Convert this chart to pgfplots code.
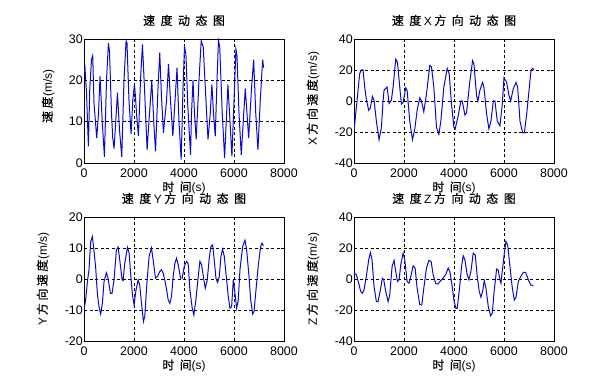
\documentclass[border=0pt]{standalone}
\usepackage{fontspec}
\setmainfont{Liberation Sans}
\newfontfamily\cjk[FakeBold=0.45]{Noto Sans CJK SC}
\usepackage{pgfplots}
\pgfplotsset{compat=1.18}
\newcommand{\g}{\hspace{5.5bp}}
\newcommand{\h}{\hspace{2.5bp}}
\newcommand{\lat}[1]{{\normalfont #1}}
\definecolor{line}{rgb}{0.04,0.04,0.8}
\pgfplotsset{
  mystyle/.style={
    scale only axis, width=200bp, height=124bp, anchor=south west,
    xmin=0, xmax=8000, xtick={0,2000,4000,6000,8000},
    scaled ticks=false,
    /pgf/number format/assume math mode=true,
    /pgf/number format/set thousands separator={},
    grid=major,
    major grid style={black, dash pattern=on 3bp off 2.5bp, line width=0.6bp},
    axis line style={black, line width=0.7bp},
    tick style={black, line width=0.6bp},
    major tick length=3bp,
    tick align=inside,
    ticklabel style={font=\fontsize{12.5}{14}\selectfont},
    xticklabel style={anchor=base, yshift=-14.5bp},
    yticklabel style={anchor=east, inner sep=1bp},
    title style={at={(0.5,1)}, anchor=base, yshift=8bp, font=\fontsize{12}{13}\selectfont\cjk},
    xlabel style={at={(axis description cs:0.5,0)}, anchor=base, yshift=-28.5bp, font=\fontsize{12}{13}\selectfont\cjk},
    ylabel style={anchor=center, font=\fontsize{12}{13}\selectfont\cjk},
    xlabel={时\g 间\lat{(s)}},
  },
  myline/.style={line, line width=1bp, no marks},
}
\begin{document}
\begin{tikzpicture}
\useasboundingbox (0,0) rectangle (604bp,384bp);
% ---------- plot 1 ----------
\begin{axis}[mystyle, at={(84bp,221bp)}, ymin=0, ymax=30, ytick={0,10,20,30},
  title={速\g 度\g 动\g 态\g 图},
  ylabel={速\h 度\lat{(m/s)}},
  ylabel style={at={(axis description cs:-0.18,0.54)}}]
\addplot[myline] coordinates {
(0,22) (40,23) (100,17) (176,4) (230,17.8) (300,25) (349,26) (400,14.5) (509,6) (580,12) (642,21)
(730,10) (817,1.5) (900,20) (977,29) (1020,27) (1100,12) (1150,6) (1202,3.5) (1270,10)
(1338,17) (1420,8) (1510,1.5) (1600,20) (1683,29.5) (1720,29) (1800,15) (1883,7)
(1950,15) (2017,19) (2060,16) (2100,12) (2178,6.5) (2260,20) (2338,28.7) (2420,18) (2524,3.2)
(2620,12) (2712,20) (2790,10) (2860,2.8) (2960,18) (3030,26.7) (3100,16) (3178,7.3)
(3300,15) (3381,24) (3460,15) (3554,6.5) (3630,14) (3720,23) (3800,10) (3887,0.8)
(3960,18) (4020,28.3) (4080,26) (4150,14) (4262,2) (4300,12) (4360,20) (4420,12) (4488,5.7)
(4600,20) (4688,29.5) (4770,28) (4880,15) (4960,5.7) (5050,12) (5116,19) (5180,12)
(5250,6.5) (5320,20) (5380,29.7) (5430,28) (5530,12) (5624,1.2) (5690,10) (5757,19)
(5840,10) (5917,1.6) (6000,15) (6077,27.5) (6120,26) (6200,12) (6290,2) (6370,10)
(6450,18) (6520,12) (6586,6) (6700,18) (6786,25) (6870,12) (6958,3.2) (7050,15)
(7146,25) (7186,23)
};
\end{axis}
% ---------- plot 2 ----------
\begin{axis}[mystyle, at={(354bp,221bp)}, ymin=-40, ymax=40, ytick={-40,-20,0,20,40},
  title={速\g 度\h\lat{X}\h 方\g 向\g 动\g 态\g 图},
  ylabel={\lat{X}\h 方\h 向\h 速\h 度\lat{(m/s)}},
  ylabel style={at={(axis description cs:-0.205,0.52)}}]
\addplot[myline] coordinates {
(0,-19.3) (120,0) (227,17.6) (294,20) (361,20) (428,9) (494,1) (588,-6) (655,-4.5)
(735,3) (802,0.5) (895,-13) (1002,-25) (1096,-17) (1162,0) (1202,7) (1323,9)
(1403,-1.5) (1496,0.5) (1563,9) (1670,27) (1737,25) (1830,9) (1897,-2) (1964,-1)
(2071,8.5) (2124,7) (2231,-13) (2338,-25) (2432,-18) (2525,-6) (2632,2) (2699,0)
(2792,-7) (2899,4.5) (3033,23) (3100,22) (3193,9) (3300,-17) (3393,-21.5) (3474,-13)
(3594,9) (3727,21) (3808,17.6) (3901,-2) (3995,-17) (4048,-18) (4168,-9.5) (4275,0)
(4329,0) (4436,-9) (4502,-7.5) (4636,13) (4743,26) (4796,24) (4903,3.5) (4957,0)
(5037,7) (5144,12) (5197,9) (5304,-8.5) (5397,-18) (5478,-13) (5571,0) (5638,0)
(5731,-13) (5838,-16) (5932,-2) (5999,15) (6106,12) (6199,3.5) (6266,0) (6373,8)
(6480,12) (6546,9) (6640,-13) (6747,-20.5) (6814,-20.5) (6907,-8.5) (7014,9)
(7081,20) (7148,21) (7201,20)
};
\end{axis}
% ---------- plot 3 ----------
\begin{axis}[mystyle, at={(84bp,43bp)}, ymin=-20, ymax=20, ytick={-20,-10,0,10,20},
  title={速\g 度\h\lat{Y}\h 方\g 向\g 动\g 态\g 图},
  ylabel={\lat{Y}\h 方\h 向\h 速\h 度\lat{(m/s)}},
  ylabel style={at={(axis description cs:-0.205,0.5)}}]
\addplot[myline] coordinates {
(0,-10) (67,-6.7) (134,-1) (200,3) (267,12) (334,13.7) (401,9) (468,3.5) (534,-4.6)
(601,-9) (668,-11.3) (735,-7.8) (802,-0.8) (895,2) (962,0.3) (1055,-4.6) (1122,-4.6)
(1202,-0.3) (1296,9.4) (1363,10.3) (1430,6.2) (1523,-0.3) (1563,-0.5) (1630,5)
(1737,10.2) (1804,8.4) (1870,1.3) (1937,-5) (2004,-8.4) (2071,-4) (2164,-0.3)
(2231,-2) (2298,-7.8) (2378,-13.7) (2432,-12) (2525,-0.3) (2605,7.3) (2699,10)
(2766,6.2) (2859,0.3) (2939,0.8) (3033,2.4) (3100,3) (3166,1.9) (3273,-1.9)
(3367,-6.7) (3434,-7.8) (3500,-5.7) (3567,0.8) (3634,5) (3701,6.7) (3768,4.6)
(3861,0.3) (3928,0.3) (4008,4) (4102,5.7) (4168,4.9) (4235,-3.5) (4329,-9.4)
(4395,-11.6) (4476,-6.7) (4569,0.8) (4636,5.7) (4703,4.6) (4796,-0.3) (4850,-3)
(4930,-0.3) (5010,6.7) (5077,10.5) (5144,11) (5210,6.2) (5277,0.3) (5344,-1.1)
(5411,0.8) (5478,7.3) (5544,9.6) (5611,7.3) (5705,-0.3) (5772,-5.7) (5838,-9.4)
(5905,-8.9) (5972,-0.3) (6039,-4.6) (6106,-9.4) (6172,-6.7) (6239,3) (6346,10.5)
(6440,12.5) (6506,9.4) (6600,0.8) (6667,-6.7) (6747,-11.3) (6800,-10.5) (6880,-3.5)
(6974,4.6) (7067,10.5) (7121,11.6) (7174,10.7)
};
\end{axis}
% ---------- plot 4 ----------
\begin{axis}[mystyle, at={(354bp,43bp)}, ymin=-40, ymax=40, ytick={-40,-20,0,20,40},
  title={速\g 度\h\lat{Z}\h 方\g 向\g 动\g 态\g 图},
  ylabel={\lat{Z}\h 方\h 向\h 速\h 度\lat{(m/s)}},
  ylabel style={at={(axis description cs:-0.205,0.5)}}]
\addplot[myline] coordinates {
(0,4.2) (94,2.7) (187,-2.7) (267,-8) (334,-9.2) (401,-7) (494,1.6) (588,12.4)
(655,17) (721,12.4) (802,-4.9) (895,-14.6) (962,-14.6) (1055,-7) (1136,0.5)
(1189,-0.5) (1269,-8) (1363,-14.6) (1430,-10.2) (1523,8) (1603,12) (1670,4.9)
(1737,-1.6) (1804,-0.5) (1870,9.2) (1964,16.7) (2031,12.4) (2124,-1.6) (2204,-2.7)
(2271,1.6) (2365,8.5) (2445,7) (2525,-5.9) (2632,-16.7) (2712,-16.7) (2792,-5.9)
(2899,7) (2993,12) (3086,11.3) (3166,2.7) (3273,-3.1) (3367,-3.1) (3474,-1)
(3567,0.5) (3661,2.7) (3768,7) (3834,4.9) (3928,-4.9) (3995,-13.5) (4075,-18.9)
(4128,-18.9) (4208,-8) (4302,8) (4369,15) (4436,12.4) (4529,2.7) (4596,-0.5)
(4676,4.9) (4770,16.7) (4850,15.6) (4930,1.6) (5010,-8) (5077,-11.8) (5144,-8)
(5210,-1) (5277,-5.9) (5371,-17.8) (5464,-23.8) (5531,-22) (5611,-7) (5705,6.4)
(5772,5.5) (5838,-0.5) (5878,-2.7) (5945,7) (6012,16.7) (6079,24.3) (6146,22)
(6239,8) (6333,-5.9) (6413,-13.5) (6480,-11.8) (6573,-1.6) (6667,1.6) (6774,4.2)
(6867,4.2) (6974,-0.5) (7067,-3.8) (7174,-4.4)
};
\end{axis}
\end{tikzpicture}
\end{document}
